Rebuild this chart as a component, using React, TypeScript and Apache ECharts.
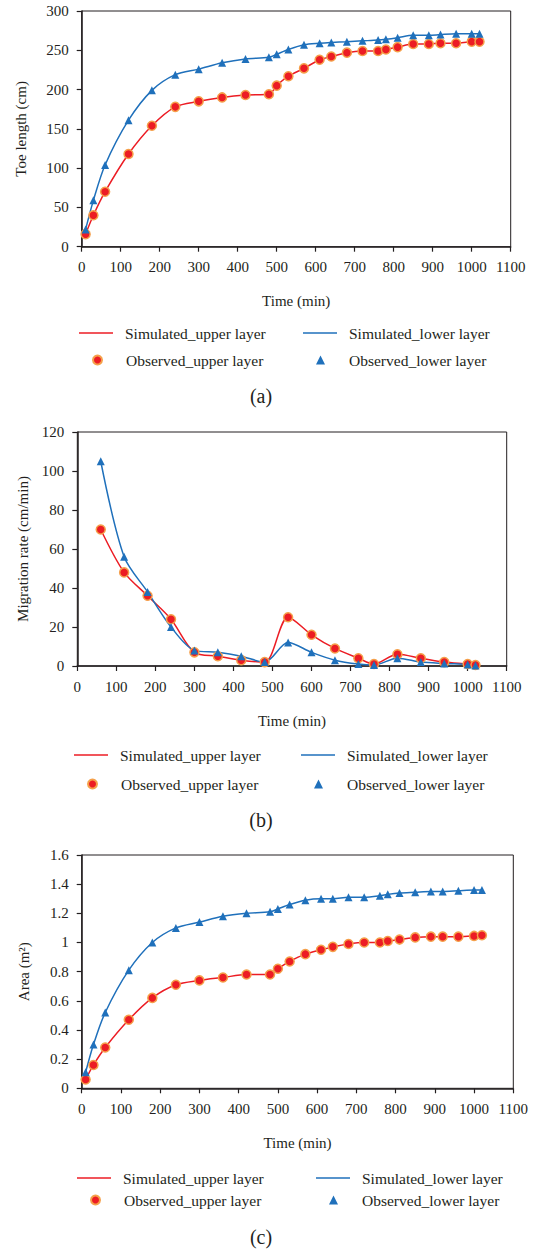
import React, { useEffect, useRef } from "react";
import * as echarts from "echarts";

// Panel (a) & (c) times
const timeAC = [10, 30, 60, 120, 180, 240, 300, 360, 420, 480, 500, 530, 570, 610, 640, 680, 720, 760, 780, 810, 850, 890, 920, 960, 1000, 1020];
const toeUpper = [16, 40, 70, 118, 154, 178, 185, 190, 193, 194, 205, 217, 227, 238, 242, 247, 249, 249, 251, 254, 258, 258, 259, 259, 261, 261];
const toeLower = [22, 59, 104, 161, 199, 219, 226, 234, 239, 241, 245, 251, 257, 259, 260, 261, 262, 263, 264, 266, 269, 269, 270, 271, 271, 271];

// Panel (b)
const timeB = [60, 120, 180, 240, 300, 360, 420, 480, 540, 600, 660, 720, 760, 820, 880, 940, 1000, 1020];
const rateUpper = [70, 48, 36, 24, 7, 5, 3, 2, 25, 16, 9, 4, 1, 6, 4, 2, 1, 0.5];
const rateLower = [105, 56, 38, 20, 8, 7, 5, 2, 12, 7, 3, 1, 0.5, 4, 2, 1.3, 0.8, 0.3];

// Panel (c)
const areaUpper = [0.06, 0.16, 0.28, 0.47, 0.62, 0.71, 0.74, 0.76, 0.78, 0.78, 0.82, 0.87, 0.92, 0.95, 0.97, 0.99, 1.0, 1.0, 1.01, 1.02, 1.035, 1.04, 1.04, 1.04, 1.045, 1.05];
const areaLower = [0.11, 0.3, 0.52, 0.81, 1.0, 1.1, 1.14, 1.18, 1.2, 1.21, 1.23, 1.26, 1.29, 1.3, 1.3, 1.31, 1.31, 1.32, 1.33, 1.34, 1.345, 1.35, 1.35, 1.355, 1.36, 1.36];

const yNames = ["Toe length (cm)", "Migration rate (cm/min)", "Area (m\u00B2)"];
const yMax = [300, 120, 1.6];
const yInterval = [50, 20, 0.2];
const xName = "Time (min)";
const captions = ["(a)", "(b)", "(c)"];
const legendNames = ["Simulated_upper layer", "Simulated_lower layer", "Observed_upper layer", "Observed_lower layer"];

const FONT = "'Liberation Serif', 'DejaVu Serif', serif";
const TXT = "#231f20";
const RED = "#ec1c24";
const BLUE = "#1f70bb";
const ORANGE = "#f5a04a";

export default function App() {
  const ref = useRef<HTMLDivElement>(null);
  useEffect(() => {
    if (!ref.current) return;
    const chart = echarts.init(ref.current, null, { renderer: "svg" });

    const grids = [
      { left: 81.7, top: 11, width: 429, height: 235.7 },
      { left: 77.3, top: 432, width: 429.4, height: 234 },
      { left: 81.7, top: 855, width: 431.6, height: 233.3 },
    ];
    const nameGaps = [53, 44, 50];
    const legendRows = [
      [333, 360],
      [755, 784],
      [1178, 1200],
    ];
    const legendCols = [
      [79, 303],
      [74, 301],
      [77, 316],
    ];
    const captionY = [396, 820, 1237];

    const panels = [
      { x: timeAC, up: toeUpper, low: toeLower },
      { x: timeB, up: rateUpper, low: rateLower },
      { x: timeAC, up: areaUpper, low: areaLower },
    ];

    const series: any[] = [];
    panels.forEach((p, i) => {
      const up = p.x.map((t, k) => [t, p.up[k]]);
      const low = p.x.map((t, k) => [t, p.low[k]]);
      series.push({
        name: legendNames[0], type: "line", xAxisIndex: i, yAxisIndex: i, data: up,
        smooth: 0.3, symbol: "none", lineStyle: { color: RED, width: 1.5 }, itemStyle: { color: RED }, z: 2,
      });
      series.push({
        name: legendNames[1], type: "line", xAxisIndex: i, yAxisIndex: i, data: low,
        smooth: 0.3, symbol: "none", lineStyle: { color: BLUE, width: 1.5 }, itemStyle: { color: BLUE }, z: 2,
      });
      series.push({
        name: legendNames[2], type: "scatter", xAxisIndex: i, yAxisIndex: i, data: up,
        symbol: "circle", symbolSize: 9,
        itemStyle: { color: RED, borderColor: ORANGE, borderWidth: 1.5, opacity: 1 }, z: 3,
      });
      series.push({
        name: legendNames[3], type: "scatter", xAxisIndex: i, yAxisIndex: i, data: low,
        symbol: "triangle", symbolSize: 8,
        itemStyle: { color: BLUE, opacity: 1 }, z: 3,
      });
    });

    const legendColors = [RED, BLUE];
    const legends: any[] = [];
    legendRows.forEach((rows, i) => {
      const cols = legendCols[i];
      [0, 1, 2, 3].forEach((k) => {
        const isLine = k < 2;
        const colX = cols[k % 2];
        const rowY = rows[Math.floor(k / 2)];
        if (isLine) {
          legends.push({
            show: true,
            left: colX,
            top: rowY - 8,
            padding: 0,
            data: [{ name: legendNames[k], icon: "rect", itemStyle: { color: legendColors[k % 2], borderWidth: 0 } }],
            selectedMode: false,
            itemWidth: 34,
            itemHeight: 1.5,
            textStyle: { fontFamily: FONT, fontSize: 15.5, fontWeight: "normal", color: TXT, padding: [0, 0, 0, 7] },
          });
        } else {
          legends.push({
            show: true,
            left: colX + 13,
            top: rowY - 8,
            padding: 0,
            data: [legendNames[k]],
            selectedMode: false,
            itemWidth: 9,
            itemHeight: 9,
            textStyle: { fontFamily: FONT, fontSize: 15.5, fontWeight: "normal", color: TXT, padding: [0, 0, 0, 19] },
          });
        }
      });
    });

    const fmt = (v: number) => String(v);

    const option: any = {
      animation: false,
      backgroundColor: "#ffffff",
      textStyle: { fontFamily: FONT, color: TXT },
      grid: grids.map((g) => ({
        ...g, show: true, borderColor: TXT, borderWidth: 1, backgroundColor: "transparent",
        containLabel: false, outerBoundsMode: "none",
      })),
      legend: legends,
      xAxis: grids.map((_, i) => ({
        type: "value", gridIndex: i, min: 0, max: 1100, interval: 100,
        name: xName, nameLocation: "middle", nameGap: 47,
        nameTextStyle: { fontFamily: FONT, fontSize: 15, fontWeight: "normal", color: TXT },
        axisLine: { show: true, onZero: false, lineStyle: { color: TXT, width: 1.5 } },
        axisTick: { show: true, inside: false, length: 5, lineStyle: { color: TXT, width: 1.2 } },
        axisLabel: { fontFamily: FONT, fontSize: 15, color: TXT, margin: 13, formatter: fmt },
        splitLine: { show: false },
      })),
      yAxis: grids.map((_, i) => ({
        type: "value", gridIndex: i, min: 0, max: yMax[i], interval: yInterval[i],
        name: yNames[i], nameLocation: "middle", nameGap: nameGaps[i], nameRotate: 90,
        nameTextStyle: { fontFamily: FONT, fontSize: 15, fontWeight: "normal", color: TXT },
        axisLine: { show: true, onZero: false, lineStyle: { color: TXT, width: 1.5 } },
        axisTick: { show: true, inside: false, length: 5, lineStyle: { color: TXT, width: 1.2 } },
        axisLabel: { fontFamily: FONT, fontSize: 15, color: TXT, margin: 13, formatter: fmt },
        splitLine: { show: false },
      })),
      graphic: captions.map((c, i) => ({
        type: "text", x: 261, y: captionY[i],
        style: { text: c, align: "center", verticalAlign: "middle", textAlign: "center", textVerticalAlign: "middle", fontFamily: FONT, fontSize: 20, fill: TXT },
      })),
      series,
    };
    chart.setOption(option);
    return () => chart.dispose();
  }, []);
  return (
    <div
      ref={ref}
      style={{ position: "absolute", left: 0, top: 0, width: 538, height: 1252, background: "#fff" }}
    />
  );
}
